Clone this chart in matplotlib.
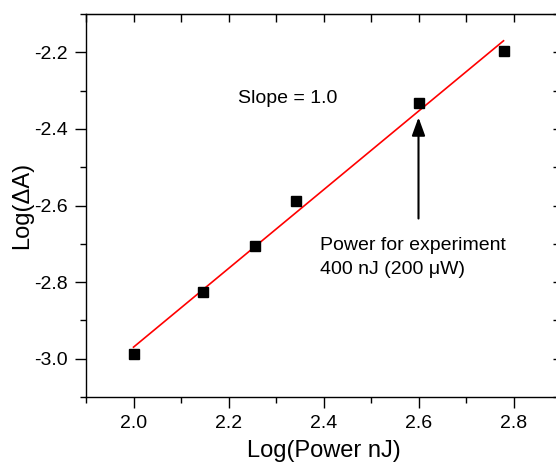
import numpy as np
import matplotlib
matplotlib.use("Agg")
import matplotlib.pyplot as plt
from matplotlib.ticker import MultipleLocator

plt.rcParams['font.family'] = ['Liberation Sans', 'DejaVu Sans']

# data
log_power = [2.0, 2.146, 2.255, 2.342, 2.602, 2.779]
log_dA = [-2.987, -2.826, -2.707, -2.588, -2.333, -2.197]
xlim = (1.9, 2.9)
ylim = (-3.1, -2.1)
x_ticks = [2.0, 2.2, 2.4, 2.6, 2.8]
y_ticks = [-3.0, -2.8, -2.6, -2.4, -2.2]
arrow_x = 2.6
arrow_tip_y = -2.37
arrow_tail_y = -2.634

fig = plt.figure(figsize=(5.56, 4.66), dpi=100)
ax = fig.add_axes([86/556, 1-397/466, (561-86)/556, (397-14)/466])

ax.plot(log_power, log_dA, linestyle='none', marker='s', markersize=6.5,
        color='black', zorder=3)
coef = np.polyfit(log_power, log_dA, 1)
fx = np.array([min(log_power), max(log_power)])
ax.plot(fx, np.polyval(coef, fx), color='red', linewidth=1.2, zorder=2)

ax.set_xlim(*xlim)
ax.set_ylim(*ylim)
ax.set_xticks(x_ticks)
ax.set_yticks(y_ticks)
ax.set_xticklabels([f"{v:.1f}" for v in x_ticks])
ax.set_yticklabels([f"{v:.1f}" for v in y_ticks])
ax.xaxis.set_minor_locator(MultipleLocator(0.1))
ax.yaxis.set_minor_locator(MultipleLocator(0.1))

ax.tick_params(axis='both', which='major', direction='out', length=8, width=1,
               labelsize=14, pad=5)
ax.tick_params(axis='both', which='minor', direction='out', length=4, width=1)
for sp in ax.spines.values():
    sp.set_linewidth(1)

# top / right inward ticks
axt = ax.secondary_xaxis('top')
axt.set_xticks(x_ticks)
axt.xaxis.set_minor_locator(MultipleLocator(0.1))
axt.tick_params(which='both', direction='in', length=6, width=1, labeltop=False)
axr = ax.secondary_yaxis('right')
axr.set_yticks(y_ticks)
axr.yaxis.set_minor_locator(MultipleLocator(0.1))
axr.tick_params(which='both', direction='in', length=6, width=1, labelright=False)

ax.set_xlabel("Log(Power nJ)", fontsize=17)
ax.set_ylabel("Log(\u0394A)", fontsize=17)
ax.xaxis.set_label_coords(0.5, -0.112)
ax.yaxis.set_label_coords(-0.111, 0.5)

ax.text(2.22, -2.321, "Slope = 1.0", fontsize=14, ha='left', va='center')
ax.text(2.392, -2.735, "Power for experiment\n400 nJ (200 \u03bcW)", fontsize=14,
        ha='left', va='center', linespacing=1.55)

ax.annotate("", xy=(arrow_x, arrow_tip_y), xytext=(arrow_x, arrow_tail_y),
            arrowprops=dict(arrowstyle='-|>,head_length=1.1,head_width=0.4',
                            color='black', lw=1.5, shrinkA=0, shrinkB=0))

fig.savefig("out.png", dpi=100)
